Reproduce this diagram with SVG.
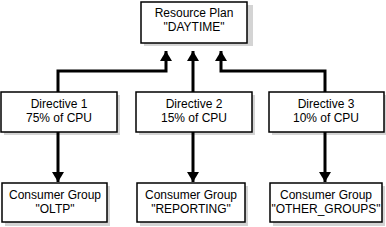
<svg xmlns="http://www.w3.org/2000/svg" width="386" height="227" viewBox="0 0 386 227">
<defs>
<style>
.shadow{fill:#d4d4d4;stroke:none}
.box{fill:#fff;stroke:#000;stroke-width:1.5}
.t{font-family:"Liberation Sans",Arial,sans-serif;font-size:12px;fill:#000;text-anchor:middle}
.c{fill:none;stroke:#000;stroke-width:3}
</style>
<marker id="ah" viewBox="0 0 10 12" refX="10" refY="6" markerWidth="10" markerHeight="12" markerUnits="userSpaceOnUse" orient="auto">
<path d="M0,0 L10,6 L0,12 Z" fill="#000"/>
</marker>
</defs>
<rect width="386" height="227" fill="#fff"/>
<g id="plan">
<rect class="shadow" x="144" y="5" width="109" height="41"/>
<rect class="box" x="141" y="2" width="106" height="41"/>
<text class="t" x="194" y="17">Resource Plan</text>
<text class="t" x="194" y="31">"DAYTIME"</text>
</g>
<g id="d1">
<rect class="shadow" x="4" y="95" width="116" height="40"/>
<rect class="box" x="1" y="92" width="116" height="40"/>
<text class="t" x="59" y="108">Directive 1</text>
<text class="t" x="59" y="122">75% of CPU</text>
</g>
<g id="d2">
<rect class="shadow" x="139" y="95" width="116" height="40"/>
<rect class="box" x="136" y="92" width="116" height="40"/>
<text class="t" x="194" y="108">Directive 2</text>
<text class="t" x="194" y="122">15% of CPU</text>
</g>
<g id="d3">
<rect class="shadow" x="272" y="95" width="114" height="40"/>
<rect class="box" x="269" y="92" width="115" height="40"/>
<text class="t" x="326" y="108">Directive 3</text>
<text class="t" x="326" y="122">10% of CPU</text>
</g>
<g id="g1">
<rect class="shadow" x="5" y="186" width="105" height="40"/>
<rect class="box" x="2" y="183" width="105" height="39"/>
<text class="t" x="55" y="199">Consumer Group</text>
<text class="t" x="55" y="213">"OLTP"</text>
</g>
<g id="g2">
<rect class="shadow" x="140" y="186" width="108" height="40"/>
<rect class="box" x="137" y="183" width="108" height="39"/>
<text class="t" x="191" y="199">Consumer Group</text>
<text class="t" x="191" y="213">"REPORTING"</text>
</g>
<g id="g3">
<rect class="shadow" x="273" y="186" width="112" height="40"/>
<rect class="box" x="270" y="183" width="112" height="39"/>
<text class="t" x="326" y="199">Consumer Group</text>
<text class="t" x="326" y="213">"OTHER_GROUPS"</text>
</g>
<g id="connectors">
<path class="c" d="M58,92 V71 H166 V51" marker-end="url(#ah)"/>
<path class="c" d="M193,92 V51" marker-end="url(#ah)"/>
<path class="c" d="M325,92 V71 H221 V51" marker-end="url(#ah)"/>
<path class="c" d="M58,132 V182" marker-end="url(#ah)"/>
<path class="c" d="M193,132 V182" marker-end="url(#ah)"/>
<path class="c" d="M325,132 V182" marker-end="url(#ah)"/>
</g>
</svg>
